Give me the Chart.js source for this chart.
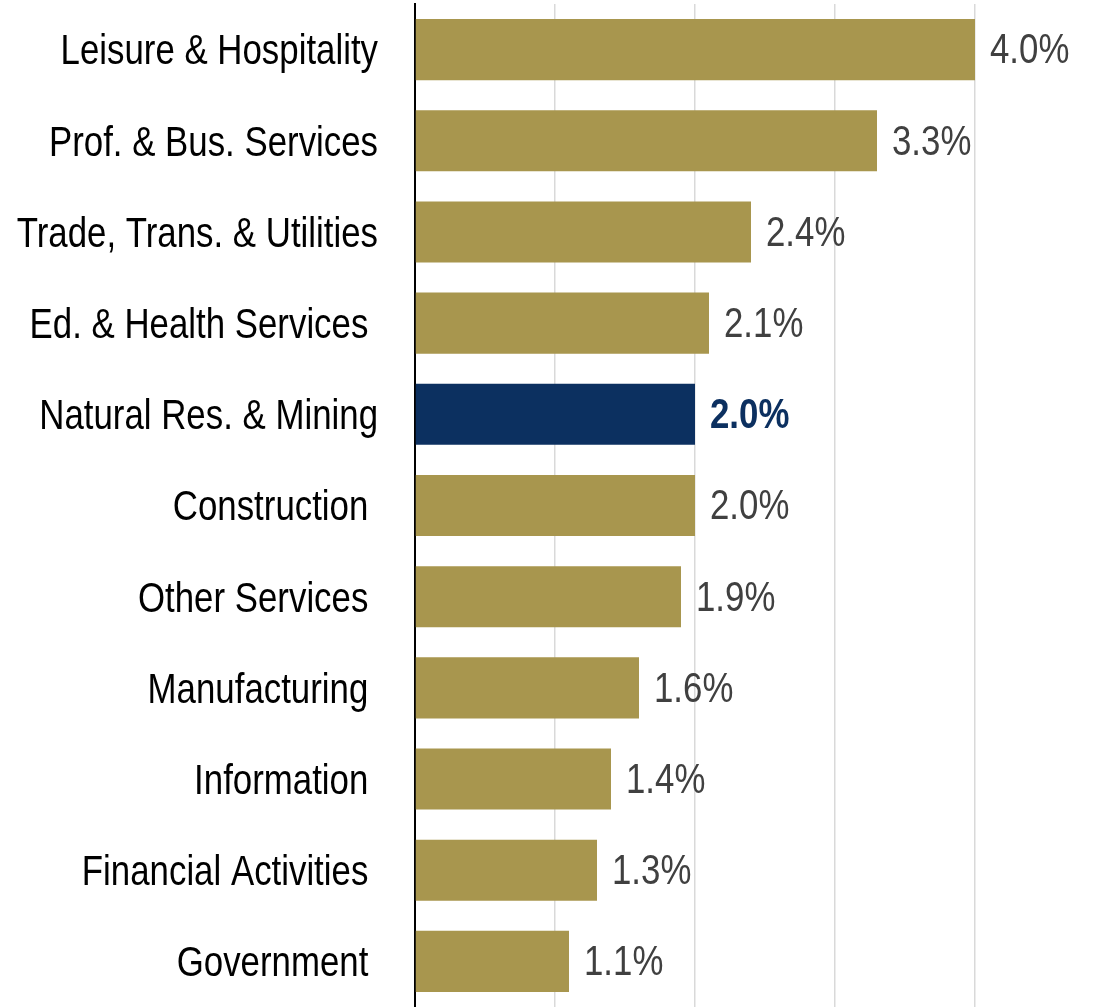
<!DOCTYPE html>
<html>
<head>
<meta charset="utf-8">
<script src="https://cdn.jsdelivr.net/npm/chart.js@4"></script>
<style>
  html, body { margin: 0; padding: 0; background: #fff; }
  #wrap { width: 1105px; height: 1007px; position: relative; }
</style>
</head>
<body>
<div id="wrap"><canvas id="barChart"></canvas></div>
<script>
// Данные графика
const categories = [
    'Leisure & Hospitality',
    'Prof. & Bus. Services',
    'Trade, Trans. & Utilities',
    'Ed. & Health Services ',
    'Natural Res. & Mining',
    'Construction ',
    'Other Services ',
    'Manufacturing ',
    'Information ',
    'Financial Activities ',
    'Government '
];
const growthValues = [4.0, 3.3, 2.4, 2.1, 2.0, 2.0, 1.9, 1.6, 1.4, 1.3, 1.1];
const highlightIndex = 4;
const xTicks = [0, 1, 2, 3, 4];

const FONT = "'Liberation Sans', Arial, sans-serif";
const NARROW = 0.81; // имитация Arial Narrow
const GOLD = '#a8964e';
const NAVY = '#0c3060';

// Текст со сжатием по горизонтали
function drawNarrow(ctx, text, x, y, align) {
    ctx.save();
    ctx.translate(x, y);
    ctx.scale(NARROW, 1);
    ctx.textAlign = align;
    ctx.fillText(text, 0, 0);
    ctx.restore();
}

// Подписи категорий слева от оси
const categoryLabels = {
    id: 'categoryLabels',
    afterDraw(chart) {
        const ctx = chart.ctx;
        const yScale = chart.scales.y;
        ctx.save();
        ctx.textBaseline = 'middle';
        ctx.font = '43px ' + FONT;
        ctx.fillStyle = '#000';
        categories.forEach(function(label, i) {
            drawNarrow(ctx, label, yScale.right - 37, yScale.getPixelForTick(i) + 3, 'right');
        });
        ctx.restore();
    }
};

// Подписи значений справа от столбцов
const valueLabels = {
    id: 'valueLabels',
    afterDatasetsDraw(chart) {
        const ctx = chart.ctx;
        const meta = chart.getDatasetMeta(0);
        ctx.save();
        ctx.textBaseline = 'middle';
        meta.data.forEach(function(bar, i) {
            const hl = i === highlightIndex;
            ctx.font = (hl ? 'bold ' : '') + '43px ' + FONT;
            ctx.fillStyle = hl ? NAVY : '#404040';
            drawNarrow(ctx, growthValues[i].toFixed(1) + '%', bar.x + 15, bar.y + 2, 'left');
        });
        ctx.restore();
    }
};

new Chart(document.getElementById('barChart'), {
    type: 'bar',
    data: {
        labels: categories,
        datasets: [{
            data: growthValues,
            backgroundColor: growthValues.map((v, i) => i === highlightIndex ? NAVY : GOLD),
            borderWidth: 0,
            categoryPercentage: 1,
            barPercentage: 0.67
        }]
    },
    options: {
        indexAxis: 'y',
        responsive: true,
        maintainAspectRatio: false,
        animation: false,
        layout: { padding: { top: 4, bottom: 0, right: 4, left: 0 } },
        plugins: {
            legend: { display: false },
            tooltip: { enabled: false }
        },
        scales: {
            x: {
                min: 0,
                max: 4.9,
                afterBuildTicks: function(scale) {
                    scale.ticks = xTicks.map(v => ({ value: v }));
                },
                ticks: { display: false },
                grid: { color: '#d9d9d9', lineWidth: 1.5, drawTicks: false },
                border: { display: false }
            },
            y: {
                afterFit: function(scale) {
                    scale.width = 415;
                    scale.paddingTop = 0;
                    scale.paddingBottom = 0;
                },
                ticks: { display: false },
                grid: { display: false, drawTicks: false },
                border: { display: true, color: '#000', width: 2 }
            }
        }
    },
    plugins: [valueLabels, categoryLabels]
});
</script>
</body>
</html>
